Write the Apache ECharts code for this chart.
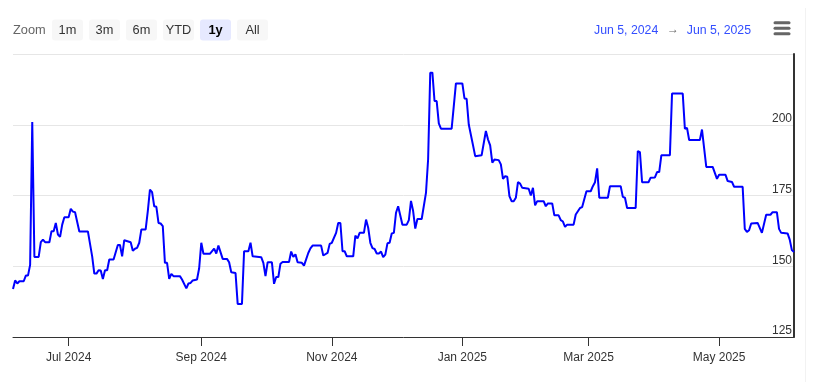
<!DOCTYPE html>
<html>
<head>
<meta charset="utf-8">
<script src="https://cdn.jsdelivr.net/npm/echarts@6/dist/echarts.min.js"></script>
<style>
html,body{margin:0;padding:0;background:#fff;}
#chart{width:818px;height:382px;}
</style>
</head>
<body>
<div id="chart"></div>
<script>
// ---- data ----
const dates = [
'2024-06-05','2024-06-06','2024-06-07','2024-06-08','2024-06-10','2024-06-11','2024-06-12','2024-06-13','2024-06-14','2024-06-15',
'2024-06-17','2024-06-18','2024-06-19','2024-06-20','2024-06-22','2024-06-23','2024-06-24','2024-06-25','2024-06-26','2024-06-27',
'2024-06-28','2024-06-29','2024-07-01','2024-07-02','2024-07-03','2024-07-04','2024-07-06','2024-07-10','2024-07-12','2024-07-13',
'2024-07-14','2024-07-15','2024-07-16','2024-07-17','2024-07-18','2024-07-19','2024-07-20','2024-07-22','2024-07-24','2024-07-25',
'2024-07-26','2024-07-27','2024-07-30','2024-07-31','2024-08-01','2024-08-02','2024-08-03','2024-08-04','2024-08-06','2024-08-07',
'2024-08-08','2024-08-09','2024-08-10','2024-08-11','2024-08-12','2024-08-13','2024-08-14','2024-08-15','2024-08-16','2024-08-17',
'2024-08-18','2024-08-19','2024-08-22','2024-08-23','2024-08-25','2024-08-26','2024-08-27','2024-08-28','2024-08-30','2024-08-31',
'2024-09-01','2024-09-02','2024-09-05','2024-09-07','2024-09-08','2024-09-09','2024-09-11','2024-09-13','2024-09-14','2024-09-15',
'2024-09-17','2024-09-18','2024-09-20','2024-09-21','2024-09-23','2024-09-24','2024-09-25','2024-09-29','2024-09-30','2024-10-01',
'2024-10-02','2024-10-04','2024-10-05','2024-10-06','2024-10-07','2024-10-08','2024-10-09','2024-10-12','2024-10-13','2024-10-14',
'2024-10-15','2024-10-16','2024-10-18','2024-10-19','2024-10-21','2024-10-22','2024-10-23','2024-10-27','2024-10-28','2024-10-30',
'2024-10-31','2024-11-01','2024-11-03','2024-11-04','2024-11-05','2024-11-06','2024-11-07','2024-11-08','2024-11-11','2024-11-12',
'2024-11-13','2024-11-14','2024-11-16','2024-11-17','2024-11-18','2024-11-19','2024-11-20','2024-11-21','2024-11-22','2024-11-23',
'2024-11-24','2024-11-25','2024-11-26','2024-11-27','2024-11-28','2024-11-29','2024-11-30','2024-12-01','2024-12-02','2024-12-03',
'2024-12-04','2024-12-06','2024-12-07','2024-12-08','2024-12-09','2024-12-10','2024-12-11','2024-12-13','2024-12-15','2024-12-16',
'2024-12-17','2024-12-18','2024-12-19','2024-12-20','2024-12-21','2024-12-22','2024-12-27','2024-12-28','2024-12-29','2025-01-01',
'2025-01-02','2025-01-03','2025-01-04','2025-01-06','2025-01-07','2025-01-10','2025-01-12','2025-01-13','2025-01-14','2025-01-15',
'2025-01-16','2025-01-18','2025-01-19','2025-01-20','2025-01-21','2025-01-22','2025-01-23','2025-01-24','2025-01-25','2025-01-26',
'2025-01-27','2025-01-28','2025-01-29','2025-02-01','2025-02-02','2025-02-03','2025-02-04','2025-02-05','2025-02-08','2025-02-09',
'2025-02-10','2025-02-12','2025-02-13','2025-02-15','2025-02-16','2025-02-17','2025-02-18','2025-02-19','2025-02-22','2025-02-23',
'2025-02-25','2025-02-26','2025-02-28','2025-03-02','2025-03-03','2025-03-04','2025-03-05','2025-03-06','2025-03-10','2025-03-11',
'2025-03-16','2025-03-17','2025-03-18','2025-03-19','2025-03-23','2025-03-24','2025-03-25','2025-03-26','2025-03-29','2025-03-30',
'2025-04-01','2025-04-02','2025-04-03','2025-04-04','2025-04-08','2025-04-09','2025-04-14','2025-04-15','2025-04-16','2025-04-17',
'2025-04-22','2025-04-23','2025-04-25','2025-04-28','2025-04-30','2025-05-01','2025-05-04','2025-05-05','2025-05-07','2025-05-08',
'2025-05-12','2025-05-13','2025-05-14','2025-05-15','2025-05-16','2025-05-19','2025-05-21','2025-05-23','2025-05-25','2025-05-26',
'2025-05-28','2025-05-29','2025-05-30','2025-06-02','2025-06-03','2025-06-04','2025-06-05'
];
const prices = [
142,145,143.9,144.7,144.7,146.7,146.7,150.5,201,153.3,
153.3,158.5,159.4,158.5,158.5,162.4,162.4,165.3,161.2,160.4,
164.7,167.3,167.3,170.3,169.3,169.1,162.3,162.3,153.5,147.4,
147.4,148.6,148.5,145.5,148.6,148.6,152.4,152.4,157.5,157.5,
153.5,159.2,158.5,155.5,156.2,156.5,158.3,163,163,169.5,
177.1,176.2,171.2,171,165.3,165.1,164.2,151.2,151.2,145.5,
147.3,146.5,146.5,145.3,142.2,143.9,144.1,145,145.3,149.3,
158.3,154.4,154.4,156.2,154.5,157.3,152.6,152.6,151.4,147.9,
147.6,136.7,136.7,155.3,155.3,158.3,153.5,153.2,151.2,146.5,
151.4,151.4,143.8,146.2,146.2,150.9,151.5,151.5,155.2,153.3,
154.2,151.4,151.2,150.2,154.7,156.3,157.3,157.3,153.8,154.7,
157.9,158.3,161.8,165.3,165.3,155.3,155.3,153.5,153.5,160.8,
159.8,161.8,161.8,166.5,163.6,158.3,156.4,156.1,154.5,154.5,
155.2,153.2,154.1,158.1,158.3,161.6,161.8,168.9,171.2,167.9,
164.7,164.7,166.3,173.1,169.5,163.3,166.7,166.7,175.9,187.7,
218.4,218.4,208.4,208.4,200.5,198.6,198.6,206.6,214.6,214.6,
209.3,209.2,200.1,192.7,188.9,189.2,197.8,194.8,192.7,186.6,
187.7,187.5,186,180.9,181.8,181.6,174.8,173,173,174.2,
179.7,179.2,177.7,177.4,175,177.7,171.5,173,173,171.2,
172.2,172.2,168,168,166.3,165.8,163.9,164.7,164.7,168.3,
170.6,170.9,176.5,176.5,178.3,179.7,184.6,174.2,174.2,178.3,
178.3,174.5,174.2,170.6,170.6,190.7,190.3,179.7,179.7,181.3,
181.4,183.3,183.3,189.2,189.2,211,211,198.6,198.9,194.6,
194.6,198.3,185.1,185.1,180.9,182.3,182.3,180.1,179.8,178.1,
178.1,163.2,162.1,162.7,165.1,165.3,161.8,168.2,168.2,169.1,
169.1,163.2,161.8,161.6,159.4,155.7,155
];
const xStart = '2024-06-05';
const xEnd = '2025-06-05';
const tickDates = ['2024-07-01','2024-09-01','2024-11-01','2025-01-01','2025-03-01','2025-05-01'];
const tickLabels = ['Jul 2024','Sep 2024','Nov 2024','Jan 2025','Mar 2025','May 2025'];
const yMin = 125, yMax = 225, yStep = 25;
const yLabelValues = [125, 150, 175, 200];
const zoomLabel = 'Zoom';
const zoomButtons = ['1m', '3m', '6m', 'YTD', '1y', 'All'];
const selectedButton = '1y';
const rangeFromText = 'Jun 5, 2024';
const rangeArrow = '\u2192';
const rangeToText = 'Jun 5, 2025';

// ---- chart ----
const parseT = s => +echarts.time.parse(s);
const tickTs = tickDates.map(parseT);
const chart = echarts.init(document.getElementById('chart'), null, {renderer: 'canvas'});
const FONT = '"Liberation Sans", Arial, Helvetica, sans-serif';

const graphics = [];
graphics.push({type: 'line', shape: {x1: 805.5, y1: 8, x2: 805.5, y2: 382},
  style: {stroke: '#f2f2f2', lineWidth: 1}});
graphics.push({type: 'text', x: 13, y: 30.5, style: {text: zoomLabel, fill: '#666666', verticalAlign: 'middle', font: '12.8px ' + FONT}});
zoomButtons.forEach((b, i) => {
  const x = 52 + i * 37;
  const sel = b === selectedButton;
  graphics.push({type: 'rect', shape: {x: x, y: 19.5, width: 31, height: 21, r: 3},
    style: {fill: sel ? '#e6e9ff' : '#f7f7f7'}});
  graphics.push({type: 'text', x: x + 15.5, y: 30.5,
    style: {text: b, fill: sel ? '#000000' : '#333333', align: 'center', verticalAlign: 'middle',
      font: (sel ? 'bold ' : '') + '12.8px ' + FONT}});
});
graphics.push({type: 'text', x: 594, y: 30.5, style: {text: rangeFromText, fill: '#334eff', verticalAlign: 'middle', font: '12.3px ' + FONT}});
graphics.push({type: 'text', x: 673, y: 30, style: {text: rangeArrow, fill: '#666666', align: 'center', verticalAlign: 'middle', font: '12px ' + FONT}});
graphics.push({type: 'text', x: 751, y: 30.5, style: {text: rangeToText, fill: '#334eff', align: 'right', verticalAlign: 'middle', font: '12.3px ' + FONT}});
[22.7, 28.3, 33.7].forEach(yy => {
  graphics.push({type: 'line', shape: {x1: 775, y1: yy, x2: 789, y2: yy},
    style: {stroke: '#666666', lineWidth: 3, lineCap: 'round'}});
});

chart.setOption({
  animation: false,
  backgroundColor: '#ffffff',
  grid: {left: 13, right: 24, top: 54, bottom: 45, containLabel: false},
  xAxis: {
    type: 'value',
    min: parseT(xStart),
    max: parseT(xEnd),
    axisLine: {show: true, onZero: false, lineStyle: {color: '#333333', width: 1}},
    axisTick: {show: true, length: 9, customValues: tickTs, lineStyle: {color: '#333333', width: 1}},
    axisLabel: {
      show: true, customValues: tickTs, margin: 15, color: '#333333', fontSize: 12, fontFamily: FONT,
      formatter: v => { const i = tickTs.indexOf(+v); return i >= 0 ? tickLabels[i] : ''; }
    },
    splitLine: {show: false}
  },
  yAxis: {
    type: 'value',
    position: 'right',
    min: yMin, max: yMax, interval: yStep,
    axisLine: {show: true, lineStyle: {color: '#333333', width: 2}},
    axisTick: {show: false},
    axisLabel: {
      inside: true, margin: 2, color: '#333333', fontSize: 12, fontFamily: FONT,
      verticalAlign: 'bottom', customValues: yLabelValues,
      formatter: v => String(v)
    },
    splitLine: {show: true, lineStyle: {color: '#e6e6e6', width: 1}}
  },
  series: [{
    type: 'line',
    data: dates.map((d, i) => [parseT(d), prices[i]]),
    showSymbol: false,
    symbol: 'none',
    lineStyle: {color: '#0000ff', width: 2},
    itemStyle: {color: '#0000ff'},
    z: 3
  }],
  graphic: graphics
});
</script>
</body>
</html>
